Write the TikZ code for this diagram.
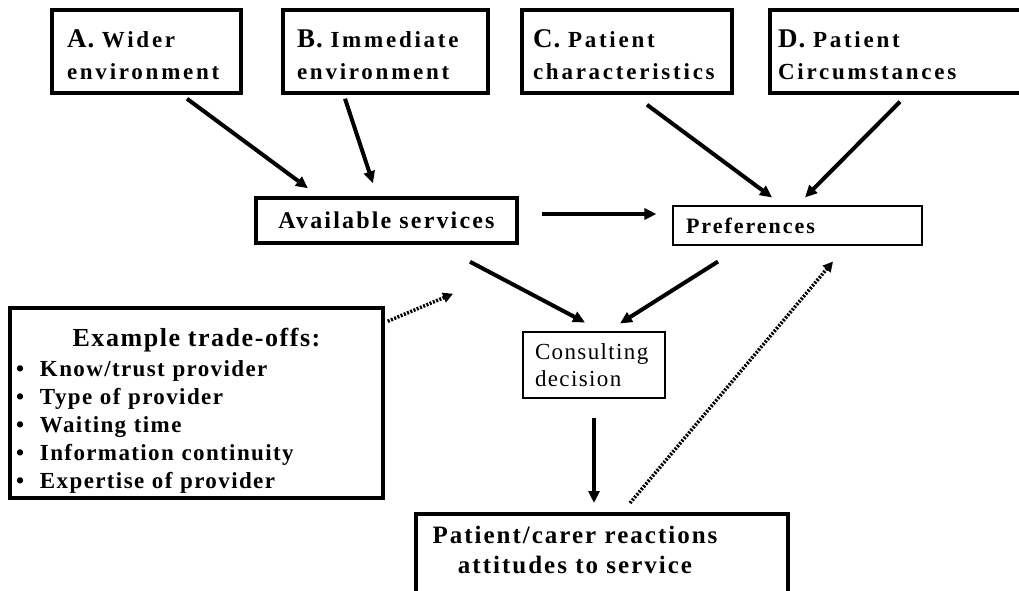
\documentclass[tikz,border=0pt]{standalone}
\usepackage{fontspec}
\setmainfont{Liberation Serif}
\usepackage{tikz}
\usetikzlibrary{arrows.meta,positioning}
\newcommand\ls[1]{\addfontfeatures{LetterSpace=#1}}
\newcommand\bigletter[1]{{\ls{4}\fontsize{27}{32}\selectfont #1}}
\newcommand\bul{\makebox[27pt][l]{\hspace{3pt}•}}

\begin{document}
\begin{tikzpicture}[x=1pt,y=1pt,
  factorbox/.style={draw, line width=3.5pt, minimum height=83pt, align=left,
    font=\fontsize{23}{32}\selectfont\bfseries\ls{12}},
  thinbox/.style={draw, line width=1.1pt},
  arr/.style={line width=4pt, -{Triangle[length=12pt,width=11pt]}},
  dotarr/.style={line width=3.5pt, dash pattern=on 2pt off 1.5pt, -{Triangle[length=10pt,width=10pt]}}]
\useasboundingbox (0,0) rectangle (1019,590);
% four factor boxes along the top
\node[factorbox, minimum width=189pt, inner xsep=15pt, text width=159pt] (wider) at (146.5,538.5) {\rule{0pt}{25pt}\bigletter{A.} Wider\\environment};
\node[factorbox, minimum width=205pt, inner xsep=14pt, text width=177pt] (immediate) at (385.5,538.5) {\rule{0pt}{25pt}\bigletter{B.} Immediate\\environment};
\node[factorbox, minimum width=210pt, inner xsep=11pt, text width=188pt] (patchar) at (627,538.5) {\rule{0pt}{25pt}\bigletter{C.} Patient\\characteristics};
\node[factorbox, minimum width=255pt, inner xsep=8pt, text width=239pt] (patcirc) at (897.5,538.5) {\rule{0pt}{25pt}\bigletter{D.} Patient\\Circumstances};
% middle row
\node[draw, line width=3.5pt, minimum width=261pt, minimum height=45pt, font=\fontsize{24}{26}\selectfont\bfseries\ls{9}] (avail) at (386.5,369.5) {Available services};
\node[thinbox, minimum width=249pt, minimum height=39pt, inner xsep=13pt, text width=223pt, align=left, font=\fontsize{22}{24}\selectfont\bfseries\ls{9}] (prefs) at (797.5,364.5) {Preferences};
\node[thinbox, minimum width=142pt, minimum height=66pt, inner xsep=12pt, text width=118pt, align=left, font=\fontsize{23}{27}\selectfont\ls{6}] (consult) at (594,225) {Consulting\\decision};
% trade-offs and reactions
\node[draw, line width=3.5pt, minimum width=373pt, minimum height=190pt, inner xsep=3pt, text width=367pt, align=left, font=\fontsize{23}{28}\selectfont\bfseries\ls{6}] (tradeoffs) at (196.5,187) {\rule{0pt}{33pt}\makebox[367pt][c]{\fontsize{26}{28}\selectfont\ls{6}Example trade-offs:}\\[2pt]
  \bul Know/trust provider\\
  \bul Type of provider\\
  \bul Waiting time\\
  \bul Information continuity\\
  \bul Expertise of provider};
\node[draw, line width=3.5pt, anchor=north, minimum width=372pt, minimum height=85pt, inner xsep=6pt, text width=360pt, align=left, font=\fontsize{25}{30}\selectfont\bfseries\ls{8}] (reactions) at (602,78) {\makebox[306pt][c]{Patient/carer reactions}\\\makebox[306pt][c]{attitudes to service}\rule[-13pt]{0pt}{13pt}};
% connectors
\draw[arr] ([shift={(40.5,-4)}]wider.south) -- ([shift={(-78.5,8)}]avail.north);
\draw[arr] ([shift={(-40.5,-4)}]immediate.south) -- ([shift={(-13.5,13)}]avail.north);
\draw[arr] ([shift={(20,-10)}]patchar.south) -- ([shift={(-25.5,8)}]prefs.north);
\draw[arr] ([shift={(2.5,-7)}]patcirc.south) -- ([shift={(7.5,8)}]prefs.north);
\draw[arr] ([shift={(23,6.5)}]avail.east) -- ([shift={(-16,11.5)}]prefs.west);
\draw[arr] ([shift={(83.5,-17)}]avail.south) -- ([shift={(-9,9)}]consult.north);
\draw[arr] ([shift={(-79.5,-16)}]prefs.south) -- ([shift={(26,8)}]consult.north);
\draw[arr] ([shift={(0,-19)}]consult.south) -- ([shift={(-8,9)}]reactions.north);
\draw[dotarr] ([shift={(3,-15)}]tradeoffs.north east) -- ([shift={(66.5,-49)}]avail.south);
\draw[dotarr] ([shift={(28,9)}]reactions.north) -- ([shift={(35.5,-16)}]prefs.south);
\end{tikzpicture}
\end{document}
